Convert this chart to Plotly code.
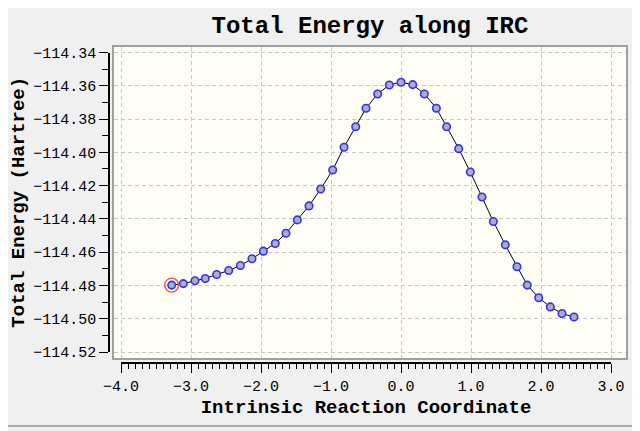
import plotly.graph_objects as go

###############################################################################
#                       Datos leídos de la curva IRC                          #
###############################################################################

irc_x = [-3.276, -3.110, -2.943, -2.796, -2.633, -2.461, -2.295, -2.129,
         -1.967, -1.796, -1.643, -1.481, -1.314, -1.147, -0.976, -0.814,
         -0.647, -0.500, -0.333, -0.167, 0.000, 0.167, 0.333, 0.505,
         0.652, 0.824, 0.990, 1.157, 1.319, 1.490, 1.657, 1.804,
         1.967, 2.133, 2.300, 2.471]

energy = [-114.4798, -114.4789, -114.4772, -114.4758, -114.4734, -114.4710,
          -114.4680, -114.4640, -114.4594, -114.4548, -114.4486, -114.4406,
          -114.4322, -114.4220, -114.4106, -114.3969, -114.3846, -114.3735,
          -114.3649, -114.3595, -114.3579, -114.3593, -114.3649, -114.3735,
          -114.3846, -114.3978, -114.4118, -114.4268, -114.4416, -114.4556,
          -114.4688, -114.4798, -114.4874, -114.4929, -114.4969, -114.4990]

current_point = 0   # punto marcado en rojo

x_ticks = [-4.0, 3.0]
y_ticks = [-114.52, -114.34]

###############################################################################
#          Geometría (en píxeles de la ventana; el body deja 8 px)            #
###############################################################################

OFF = 8
W, H = 640 - OFF, 431 - OFF
box_l, box_t, box_r, box_b = 114, 47, 626, 358     # recuadro del gráfico
xax_l, xax_r = 121, 611                            # eje X con etiquetas
yax_t, yax_b = 52.5, 352                           # eje Y con etiquetas
xax_pos = 363                                      # línea del eje X
yax_pos = 109                                      # línea del eje Y


def fx(px):
    return (px - OFF) / W


def fy(py):
    return 1 - (py - OFF) / H


px_x = (xax_r - xax_l) / (x_ticks[1] - x_ticks[0])
px_y = (yax_b - yax_t) / (y_ticks[1] - y_ticks[0])

box_xrange = [x_ticks[0] - (xax_l - box_l) / px_x,
              x_ticks[1] + (box_r - xax_r) / px_x]
box_yrange = [y_ticks[0] - (box_b - yax_b) / px_y,
              y_ticks[1] + (yax_t - box_t) / px_y]

tick_font = dict(family="Liberation Mono", size=15, color="black")
title_font = dict(family="Liberation Mono", size=19, color="black")

###############################################################################
#                               Figura                                        #
###############################################################################

fig = go.Figure()

fig.add_trace(go.Scatter(
    x=irc_x, y=energy, mode="lines+markers",
    xaxis="x", yaxis="y",
    line=dict(color="black", width=1),
    marker=dict(size=7.5, color="#b0b0b4",
                line=dict(color="#3030ff", width=1.6)),
    showlegend=False, hoverinfo="x+y"))

fig.add_trace(go.Scatter(
    x=[irc_x[current_point]], y=[energy[current_point]], mode="markers",
    xaxis="x", yaxis="y",
    marker=dict(size=14, symbol="circle-open",
                line=dict(color="#ff2020", width=1.4)),
    showlegend=False, hoverinfo="skip"))

# traza invisible para que se dibujen los ejes con etiquetas
fig.add_trace(go.Scatter(x=x_ticks, y=y_ticks, xaxis="x2", yaxis="y2",
                         mode="markers", marker=dict(opacity=0),
                         showlegend=False, hoverinfo="skip"))

fig.update_layout(
    width=W, height=H,
    margin=dict(l=0, r=0, t=0, b=0, autoexpand=False),
    paper_bgcolor="#f0f0f0",
    plot_bgcolor="rgba(0,0,0,0)",
    title=dict(text="<b>Total Energy along IRC</b>",
               x=fx(370), xanchor="center", y=fy(25), yanchor="middle",
               font=dict(family="Liberation Mono", size=24, color="black")),
    xaxis=dict(domain=[fx(box_l), fx(box_r)], range=box_xrange,
               tick0=x_ticks[0], dtick=1, showticklabels=False, ticks="",
               showgrid=True, gridcolor="#c8c8c8", griddash="4px,3px",
               gridwidth=1, zeroline=False, automargin=False,
               showline=True, mirror=True, linecolor="#a0a0a0", linewidth=1.5),
    yaxis=dict(domain=[fy(box_b), fy(box_t)], range=box_yrange,
               tick0=y_ticks[1], dtick=0.02, showticklabels=False, ticks="",
               showgrid=True, gridcolor="#c8c8c8", griddash="4px,3px",
               gridwidth=1, zeroline=False, automargin=False,
               showline=True, mirror=True, linecolor="#a0a0a0", linewidth=1.5),
    xaxis2=dict(domain=[fx(xax_l), fx(xax_r)], range=x_ticks,
                anchor="free", position=fy(xax_pos), automargin=False,
                tick0=x_ticks[0], dtick=1, tickformat=".1f",
                ticks="outside", ticklen=9, tickwidth=1, tickcolor="black",
                minor=dict(dtick=0.1, ticks="outside", ticklen=5,
                           tickcolor="black", tickwidth=1, showgrid=False),
                showline=True, linecolor="black", linewidth=1.5,
                showgrid=False, zeroline=False, tickfont=tick_font,
                title=dict(text="<b>Intrinsic Reaction Coordinate</b>",
                           font=title_font, standoff=4)),
    yaxis2=dict(domain=[fy(yax_b), fy(yax_t)], range=y_ticks,
                anchor="free", position=fx(yax_pos), side="left",
                automargin=False,
                tick0=y_ticks[1], dtick=0.02, tickformat=".2f",
                ticks="outside", ticklen=9, tickwidth=1, tickcolor="black",
                minor=dict(dtick=0.01, ticks="outside", ticklen=6,
                           tickcolor="black", tickwidth=1, showgrid=False),
                showline=True, linecolor="black", linewidth=1.5,
                showgrid=False, zeroline=False, tickfont=tick_font,
                title=dict(text="<b>Total Energy (Hartree)</b>",
                           font=title_font, standoff=4)),
)

# fondo crema del recuadro, por debajo de la rejilla
fig.add_shape(type="rect", xref="x domain", yref="y domain",
              x0=0, x1=1, y0=0, y1=1, layer="below",
              fillcolor="#fefef6", line=dict(width=0))

# marco de la ventana
fig.add_shape(type="line", xref="paper", yref="paper",
              x0=fx(634), x1=fx(634), y0=1, y1=fy(426),
              line=dict(color="#a8a8a8", width=2))
fig.add_shape(type="line", xref="paper", yref="paper",
              x0=0, x1=1, y0=fy(426), y1=fy(426),
              line=dict(color="#a8a8a8", width=2))

fig.write_html("out.html")
